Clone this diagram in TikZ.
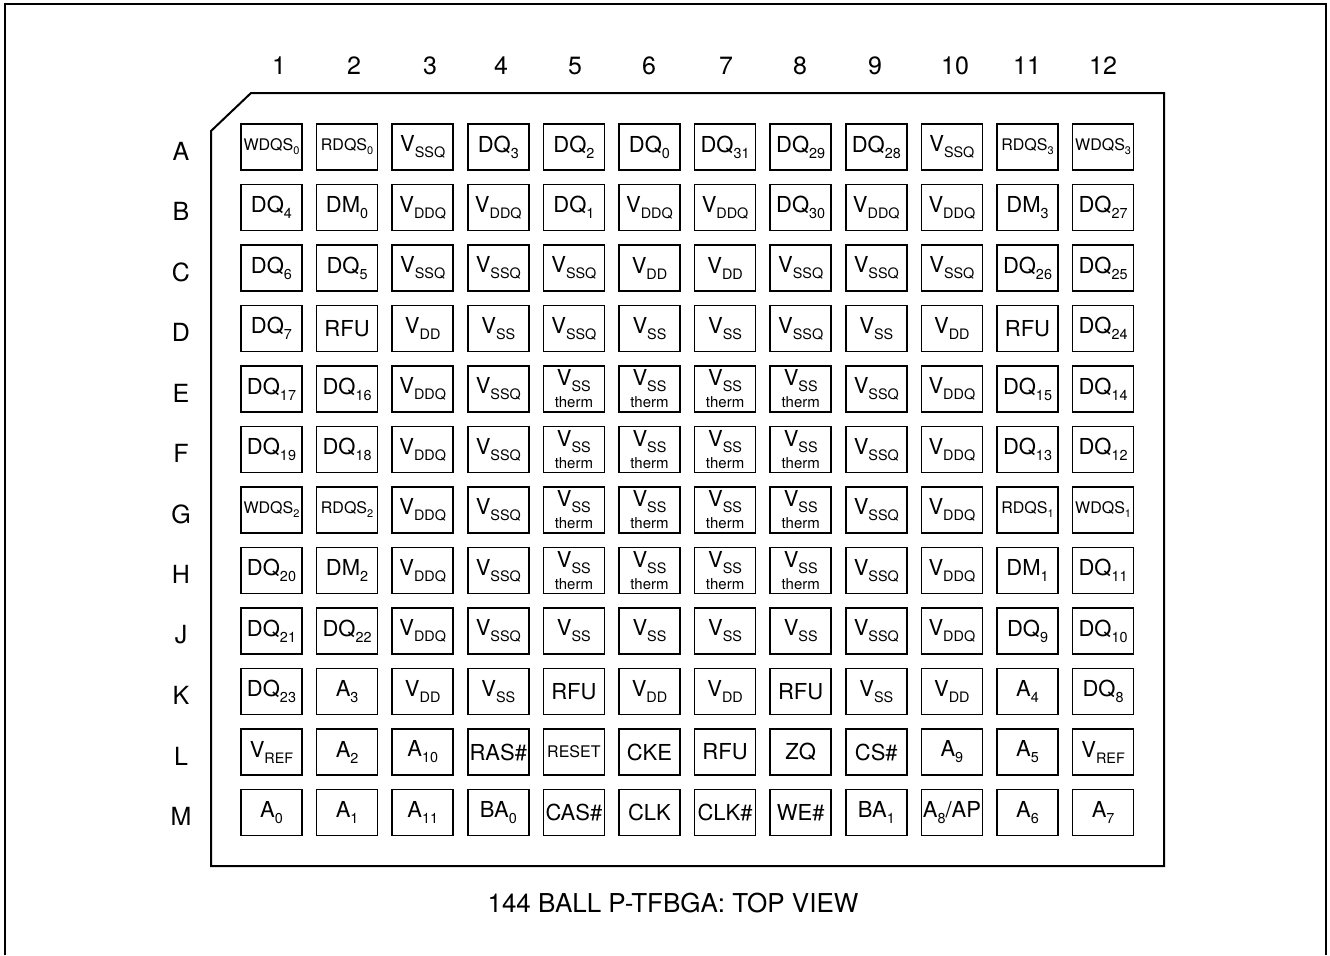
\documentclass[tikz,border=0pt]{standalone}
\usepackage{fontspec}
\setmainfont{TeX Gyre Heros}
\newcommand{\pinsub}[1]{\raisebox{-3pt}{\fontsize{7.2}{7}\selectfont #1}}
\newcommand{\tinypin}[2]{{\fontsize{8}{8}\selectfont #1\raisebox{-2pt}{\fontsize{5.5}{6}\selectfont #2}}}
\newcommand{\thermpin}{V\pinsub{SS}\\[0pt]{\fontsize{7.5}{8}\selectfont therm}}

\begin{document}
\begin{tikzpicture}[x=0.5pt,y=-0.5pt,
	pin/.style={draw,line width=0.75pt,minimum width=30.5pt,minimum height=23pt,inner sep=0pt,
		align=center,font=\fontsize{11}{11}\selectfont},
	idx/.style={font=\fontsize{12.5}{13}\selectfont}]
	\useasboundingbox (0,0) rectangle (1330,955);
	% frame and package outline
	\draw[line width=0.75pt] (5,955) -- (5,4) -- (1326,4) -- (1326,955);
	\draw[line width=1pt] (211,131) -- (251,93) -- (1164,93) -- (1164,866) -- (211,866) -- cycle;
	% column numbers and row letters
	\foreach \i/\xx in {1/279,2/354,3/430,4/501,5/575,6/649,7/726,8/800,9/875,10/955,11/1027,12/1103}
		\node[idx] (col\i) at (\xx,66) {\i};
	\foreach \r [count=\j] in {A,B,C,D,E,F,G,H,J,K,L,M}
		\node[idx] (row\r) at (181,{151+60.5*(\j-1)}) {\r};
	% balls, one row at a time
	\foreach \lbl [count=\i] in {\tinypin{WDQS}{0},\tinypin{RDQS}{0},V\pinsub{SSQ},DQ\pinsub{3},DQ\pinsub{2},DQ\pinsub{0},
		DQ\pinsub{31},DQ\pinsub{29},DQ\pinsub{28},V\pinsub{SSQ},\tinypin{RDQS}{3},\tinypin{WDQS}{3}}
		\node[pin] (A\i) at ({271.5+75.6*(\i-1)},147) {\lbl};
	\foreach \lbl [count=\i] in {DQ\pinsub{4},DM\pinsub{0},V\pinsub{DDQ},V\pinsub{DDQ},DQ\pinsub{1},V\pinsub{DDQ},
		V\pinsub{DDQ},DQ\pinsub{30},V\pinsub{DDQ},V\pinsub{DDQ},DM\pinsub{3},DQ\pinsub{27}}
		\node[pin] (B\i) at ({271.5+75.6*(\i-1)},207.5) {\lbl};
	\foreach \lbl [count=\i] in {DQ\pinsub{6},DQ\pinsub{5},V\pinsub{SSQ},V\pinsub{SSQ},V\pinsub{SSQ},V\pinsub{DD},
		V\pinsub{DD},V\pinsub{SSQ},V\pinsub{SSQ},V\pinsub{SSQ},DQ\pinsub{26},DQ\pinsub{25}}
		\node[pin] (C\i) at ({271.5+75.6*(\i-1)},268) {\lbl};
	\foreach \lbl [count=\i] in {DQ\pinsub{7},RFU,V\pinsub{DD},V\pinsub{SS},V\pinsub{SSQ},V\pinsub{SS},
		V\pinsub{SS},V\pinsub{SSQ},V\pinsub{SS},V\pinsub{DD},RFU,DQ\pinsub{24}}
		\node[pin] (D\i) at ({271.5+75.6*(\i-1)},328.5) {\lbl};
	\foreach \lbl [count=\i] in {DQ\pinsub{17},DQ\pinsub{16},V\pinsub{DDQ},V\pinsub{SSQ},\thermpin,\thermpin,
		\thermpin,\thermpin,V\pinsub{SSQ},V\pinsub{DDQ},DQ\pinsub{15},DQ\pinsub{14}}
		\node[pin] (E\i) at ({271.5+75.6*(\i-1)},389) {\lbl};
	\foreach \lbl [count=\i] in {DQ\pinsub{19},DQ\pinsub{18},V\pinsub{DDQ},V\pinsub{SSQ},\thermpin,\thermpin,
		\thermpin,\thermpin,V\pinsub{SSQ},V\pinsub{DDQ},DQ\pinsub{13},DQ\pinsub{12}}
		\node[pin] (F\i) at ({271.5+75.6*(\i-1)},449.5) {\lbl};
	\foreach \lbl [count=\i] in {\tinypin{WDQS}{2},\tinypin{RDQS}{2},V\pinsub{DDQ},V\pinsub{SSQ},\thermpin,\thermpin,
		\thermpin,\thermpin,V\pinsub{SSQ},V\pinsub{DDQ},\tinypin{RDQS}{1},\tinypin{WDQS}{1}}
		\node[pin] (G\i) at ({271.5+75.6*(\i-1)},510) {\lbl};
	\foreach \lbl [count=\i] in {DQ\pinsub{20},DM\pinsub{2},V\pinsub{DDQ},V\pinsub{SSQ},\thermpin,\thermpin,
		\thermpin,\thermpin,V\pinsub{SSQ},V\pinsub{DDQ},DM\pinsub{1},DQ\pinsub{11}}
		\node[pin] (H\i) at ({271.5+75.6*(\i-1)},570.5) {\lbl};
	\foreach \lbl [count=\i] in {DQ\pinsub{21},DQ\pinsub{22},V\pinsub{DDQ},V\pinsub{SSQ},V\pinsub{SS},V\pinsub{SS},
		V\pinsub{SS},V\pinsub{SS},V\pinsub{SSQ},V\pinsub{DDQ},DQ\pinsub{9},DQ\pinsub{10}}
		\node[pin] (J\i) at ({271.5+75.6*(\i-1)},631) {\lbl};
	\foreach \lbl [count=\i] in {DQ\pinsub{23},A\pinsub{3},V\pinsub{DD},V\pinsub{SS},RFU,V\pinsub{DD},
		V\pinsub{DD},RFU,V\pinsub{SS},V\pinsub{DD},A\pinsub{4},DQ\pinsub{8}}
		\node[pin] (K\i) at ({271.5+75.6*(\i-1)},691.5) {\lbl};
	\foreach \lbl [count=\i] in {V\pinsub{REF},A\pinsub{2},A\pinsub{10},RAS\#,{\fontsize{8}{8}\selectfont RESET},CKE,
		RFU,ZQ,CS\#,A\pinsub{9},A\pinsub{5},V\pinsub{REF}}
		\node[pin] (L\i) at ({271.5+75.6*(\i-1)},752) {\lbl};
	\foreach \lbl [count=\i] in {A\pinsub{0},A\pinsub{1},A\pinsub{11},BA\pinsub{0},CAS\#,CLK,
		CLK\#,WE\#,BA\pinsub{1},A\pinsub{8}/AP,A\pinsub{6},A\pinsub{7}}
		\node[pin] (M\i) at ({271.5+75.6*(\i-1)},812.5) {\lbl};
	% caption
	\node[font=\fontsize{13}{13}\selectfont] (caption) at (673,903) {144 BALL P-TFBGA: TOP VIEW};
\end{tikzpicture}
\end{document}
